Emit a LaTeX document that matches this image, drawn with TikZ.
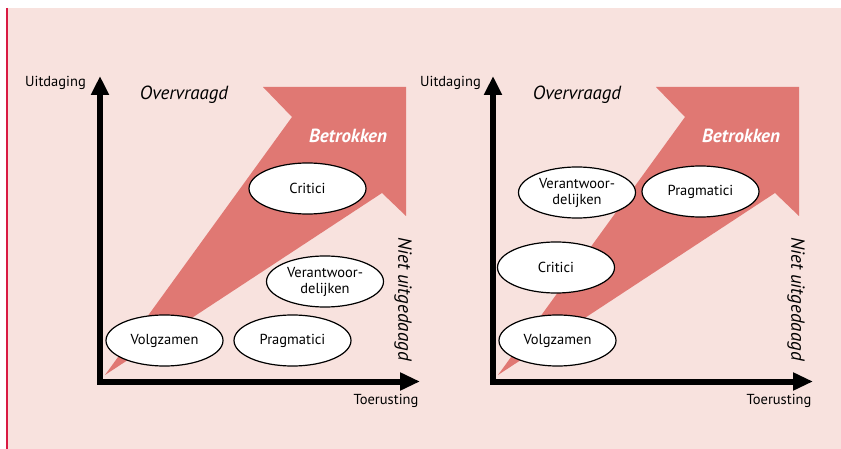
\documentclass[tikz,border=0pt]{standalone}
\usepackage{fontspec}
\setmainfont{PT Sans}
\usetikzlibrary{shapes.geometric}
\usetikzlibrary{arrows.meta}

\definecolor{roze}{HTML}{F8E2DE}
\definecolor{zalm}{HTML}{E07873}
\definecolor{rand}{HTML}{D91A42}

\begin{document}
\begin{tikzpicture}[x=1pt,y=-1pt,
    groep/.style={ellipse,draw,line width=1.2pt,fill=white,minimum width=117pt,minimum height=51pt,inner sep=0pt,align=center,font=\fontsize{14.5}{16}\selectfont},
    as/.style={line width=6pt,line join=miter,{Triangle[length=19pt,width=17pt]}-{Triangle[length=20pt,width=17pt]}},
    label/.style={inner sep=0pt,font=\fontsize{14.5}{16}\selectfont},
    kop/.style={inner sep=0pt,font=\fontsize{19}{20}\selectfont\itshape}]%
    \useasboundingbox (0,0) rectangle (841,449);%
    \fill[roze] (6,8) rectangle (841,449);%
    \draw[rand,line width=2pt] (7,8) -- (7,449);%
    % linker figuur
    \begin{scope}
        \fill[zalm] (105,375) -- (292,117) -- (263,87) -- (406,87) -- (406,216) -- (382,193) -- cycle;%
        \coordinate (top1) at (100,76);%
        \coordinate (hoek1) at (100,381.5);%
        \coordinate (eind1) at (420,381.5);%
        \draw[as] (top1) -- (hoek1) -- (eind1);%
        \node[label,anchor=east] (uit1) at (86,83) {Uitdaging};%
        \node[label] (toe1) at (386,401) {Toerusting};%
        \node[kop] (over1) at (184,95) {Overvraagd};%
        \node[kop,font=\fontsize{19}{20}\selectfont\bfseries\itshape,white] (betr1) at (348,136) {Betrokken};%
        \node[kop,rotate=-90] (niet1) at (403,299) {Niet uitgedaagd};%
        \node[groep] (crit1) at (307.5,188.5) {Critici};%
        \node[groep] (verant1) at (325,281.5) {Verantwoor-\\delijken};%
        \node[groep] (volg1) at (164.5,340.5) {Volgzamen};%
        \node[groep] (prag1) at (292.5,340.5) {Pragmatici};%
    \end{scope}
    % rechter figuur
    \begin{scope}[shift={(393,0)}]
        \fill[zalm] (105,375) -- (292,117) -- (263,87) -- (406,87) -- (406,216) -- (382,193) -- cycle;%
        \coordinate (top2) at (100,76);%
        \coordinate (hoek2) at (100,381.5);%
        \coordinate (eind2) at (420,381.5);%
        \draw[as] (top2) -- (hoek2) -- (eind2);%
        \node[label,anchor=east] (uit2) at (88,83) {Uitdaging};%
        \node[label] (toe2) at (386,401) {Toerusting};%
        \node[kop] (over2) at (184,95) {Overvraagd};%
        \node[kop,font=\fontsize{19}{20}\selectfont\bfseries\itshape,white] (betr2) at (348,136) {Betrokken};%
        \node[kop,rotate=-90] (niet2) at (403,299) {Niet uitgedaagd};%
        \node[groep] (verant2) at (184,192.5) {Verantwoor-\\delijken};%
        \node[groep] (prag2) at (307.5,191.5) {Pragmatici};%
        \node[groep] (crit2) at (163,267.5) {Critici};%
        \node[groep] (volg2) at (164.5,340.5) {Volgzamen};%
    \end{scope}
\end{tikzpicture}
\end{document}
